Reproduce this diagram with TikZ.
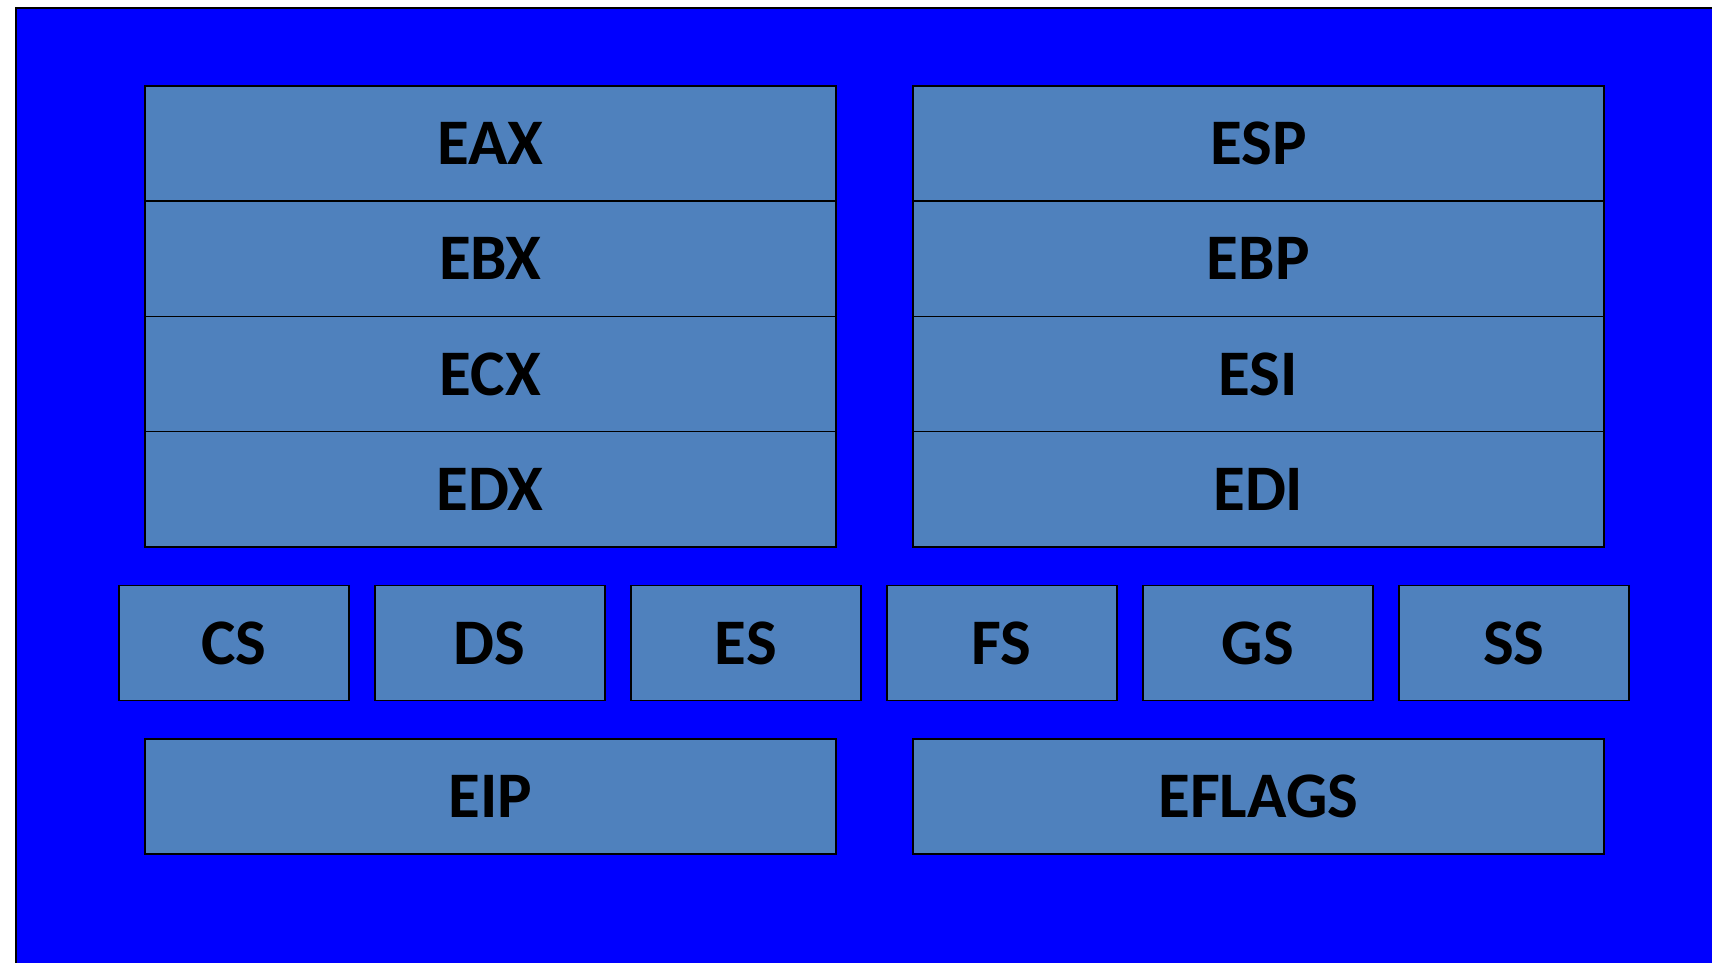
\documentclass[tikz,border=0pt]{standalone}
\usepackage{fontspec}
\newfontfamily\regfont{Carlito}
\definecolor{bgblue}{HTML}{0000FF}
\definecolor{regfill}{HTML}{4F81BD}
\begin{document}
\begin{tikzpicture}[x=1pt,y=-1pt,
  reg/.style={draw=black,line width=1.6pt,fill=regfill,inner sep=0pt,
    font=\regfont\bfseries\fontsize{65}{65}\selectfont,text depth=0pt,
    anchor=north west}]
\useasboundingbox (0,0) rectangle (1712,963);
\fill[white] (0,0) rectangle (1712,963);
\fill[bgblue] (16,8) rectangle (1720,970);
\draw[line width=2pt] (16,972) -- (16,8) -- (1720,8);
% general purpose
\node[reg,minimum width=691pt,minimum height=115.25pt] (eax) at (144,85) {EAX};
\node[reg,minimum width=691pt,minimum height=115.25pt] (ebx) at (144,200.25) {EBX};
\node[reg,minimum width=691pt,minimum height=115.25pt] (ecx) at (144,315.5) {ECX};
\node[reg,minimum width=691pt,minimum height=115.25pt] (edx) at (144,430.75) {EDX};
\node[reg,minimum width=691pt,minimum height=115.25pt] (esp) at (912,85) {ESP};
\node[reg,minimum width=691pt,minimum height=115.25pt] (ebp) at (912,200.25) {EBP};
\node[reg,minimum width=691pt,minimum height=115.25pt] (esi) at (912,315.5) {ESI};
\node[reg,minimum width=691pt,minimum height=115.25pt] (edi) at (912,430.75) {EDI};
% segment
\node[reg,minimum width=230pt,minimum height=115pt] (cs) at (118,584.5) {CS};
\node[reg,minimum width=230pt,minimum height=115pt] (ds) at (374,584.5) {DS};
\node[reg,minimum width=230pt,minimum height=115pt] (es) at (630,584.5) {ES};
\node[reg,minimum width=230pt,minimum height=115pt] (fs) at (886,584.5) {FS};
\node[reg,minimum width=230pt,minimum height=115pt] (gs) at (1142,584.5) {GS};
\node[reg,minimum width=230pt,minimum height=115pt] (ss) at (1398,584.5) {SS};
% bottom
\node[reg,minimum width=691pt,minimum height=115pt] (eip) at (144,738) {EIP};
\node[reg,minimum width=691pt,minimum height=115pt] (eflags) at (912,738) {EFLAGS};
\end{tikzpicture}
\end{document}
